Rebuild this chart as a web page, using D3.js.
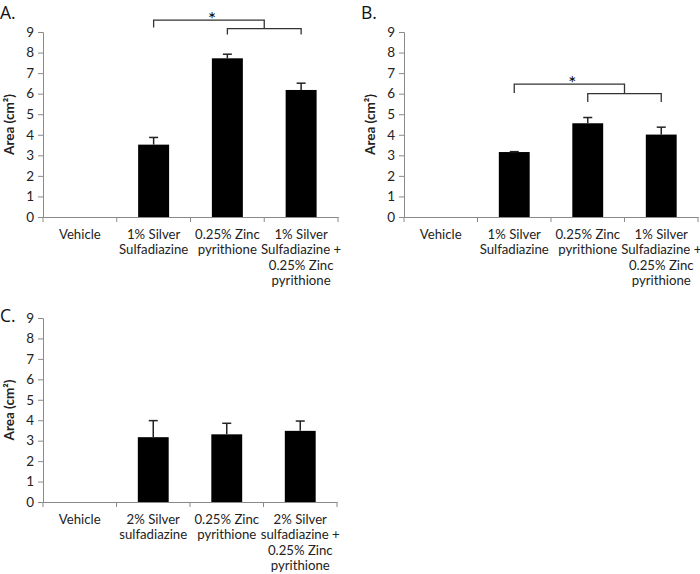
<!DOCTYPE html>
<html><head><meta charset="utf-8">
<script src="https://cdn.jsdelivr.net/npm/d3@7"></script>
<style>
html,body{margin:0;padding:0;background:#fff;}
text{font-family:Lato,"Open Sans",sans-serif;}
</style></head>
<body>
<svg id="chart" width="700" height="574"></svg>
<script>
// ---- data ----
const categoriesAB = [["Vehicle"],["1% Silver","Sulfadiazine"],["0.25% Zinc","pyrithione"],["1% Silver","Sulfadiazine +","0.25% Zinc","pyrithione"]];
const categoriesC = [["Vehicle"],["2% Silver","sulfadiazine"],["0.25% Zinc","pyrithione"],["2% Silver","sulfadiazine +","0.25% Zinc","pyrithione"]];
const valuesA = [0, 3.52, 7.72, 6.18];
const errorsA = [0, 0.35, 0.2, 0.33];
const valuesB = [0, 3.16, 4.56, 4.01];
const errorsB = [0, 0.02, 0.28, 0.36];
const valuesC = [0, 3.17, 3.31, 3.48];
const errorsC = [0, 0.81, 0.54, 0.48];
const yTicks = [0,1,2,3,4,5,6,7,8,9];
// brackets: [outer top, outer drop, inner top, inner drop]
const bracketA = [9.58, 9.22, 9.16, 8.88];
const bracketB = [6.46, 6.03, 6.0, 5.59];

const svg = d3.select("#chart");

function panel(opt){
  const g = svg.append("g");
  const x = d3.scaleBand().domain(d3.range(opt.cats.length)).range([opt.x0, opt.x1]).padding(0);
  const y = d3.scaleLinear().domain([0,9]).range([opt.yb, opt.yt]);
  const bw = x.bandwidth()*0.42;
  const axisColor = "#8a8a8a";

  // y axis
  const ya = g.append("g").attr("transform",`translate(${opt.x0},0)`)
    .call(d3.axisLeft(y).tickValues(yTicks).tickSize(5).tickPadding(4).tickFormat(d3.format("d")));
  ya.select(".domain").attr("stroke",axisColor);
  ya.selectAll(".tick line").attr("stroke",axisColor);
  ya.selectAll("text").attr("font-size",13.5).attr("fill","#222").style("font-family","Lato,sans-serif");

  // x axis
  const xa = g.append("g").attr("transform",`translate(0,${opt.yb})`)
    .call(d3.axisBottom(x).tickSize(0).tickFormat(""));
  xa.select(".domain").attr("stroke",axisColor);
  xa.selectAll(".tick").remove();
  const bounds = d3.range(opt.cats.length+1).map(i => opt.x0 + i*x.step());
  g.selectAll(".xt").data(bounds).join("line")
    .attr("x1",d=>d).attr("x2",d=>d).attr("y1",opt.yb).attr("y2",opt.yb+5)
    .attr("stroke",axisColor);

  // bars
  g.selectAll(".bar").data(opt.values).join("rect")
    .attr("x",(d,i)=>x(i)+x.bandwidth()/2-bw/2)
    .attr("y",d=>y(d)).attr("width",bw).attr("height",d=>y(0)-y(d))
    .attr("fill","#000");
  // error bars
  opt.values.forEach((v,i)=>{
    if(!opt.errors[i]) return;
    const cx = x(i)+x.bandwidth()/2;
    g.append("line").attr("x1",cx).attr("x2",cx).attr("y1",y(v)).attr("y2",y(v+opt.errors[i])).attr("stroke","#222").attr("stroke-width",1.5);
    g.append("line").attr("x1",cx-4.5).attr("x2",cx+4.5).attr("y1",y(v+opt.errors[i])).attr("y2",y(v+opt.errors[i])).attr("stroke","#222").attr("stroke-width",1.5);
  });

  // category labels
  opt.cats.forEach((lines,i)=>{
    const t = g.append("text").attr("text-anchor","middle").attr("font-size",13.2).attr("fill","#222");
    lines.forEach((l,j)=>{
      t.append("tspan").attr("x",x(i)+x.bandwidth()/2).attr("y",opt.yb+22+j*15.4).text(l);
    });
  });

  // y title
  g.append("text").attr("transform",`translate(${opt.x0-29},${(opt.yt+opt.yb)/2}) rotate(-90)`)
    .attr("text-anchor","middle").attr("font-size",13.5).attr("font-weight","bold").attr("fill","#222")
    .text("Area (cm²)");

  // panel label
  g.append("text").attr("x",opt.lx).attr("y",opt.ly).attr("font-size",17.5).attr("fill","#111")
    .style("font-family","'Open Sans',sans-serif").text(opt.label);

  // brackets
  if(opt.bracket){
    const b = opt.bracket;
    const c1 = x(1)+x.bandwidth()/2, c2 = x(2)+x.bandwidth()/2, c3 = x(3)+x.bandwidth()/2;
    const mid = (c2+c3)/2;
    const path1 = `M${c1},${y(b[1])}V${y(b[0])}H${mid}V${y(b[2])}`;
    const path2 = `M${c2},${y(b[3])}V${y(b[2])}H${c3}V${y(b[3])}`;
    g.append("path").attr("d",path1).attr("fill","none").attr("stroke","#333").attr("stroke-width",1.3);
    g.append("path").attr("d",path2).attr("fill","none").attr("stroke","#333").attr("stroke-width",1.3);
    g.append("text").attr("x",(c1+mid)/2+3).attr("y",y(b[0])+6).attr("text-anchor","middle")
      .attr("font-size",19).attr("fill","#000").text("*");
  }
}

panel({cats:categoriesAB, values:valuesA, errors:errorsA, x0:43, x1:338, yt:32, yb:217, label:"A.", lx:0, ly:19, bracket:bracketA});
panel({cats:categoriesAB, values:valuesB, errors:errorsB, x0:404, x1:698, yt:32, yb:217, label:"B.", lx:361, ly:19, bracket:bracketB});
panel({cats:categoriesC, values:valuesC, errors:errorsC, x0:43, x1:337, yt:318, yb:502, label:"C.", lx:0, ly:322});
</script>
</body></html>
